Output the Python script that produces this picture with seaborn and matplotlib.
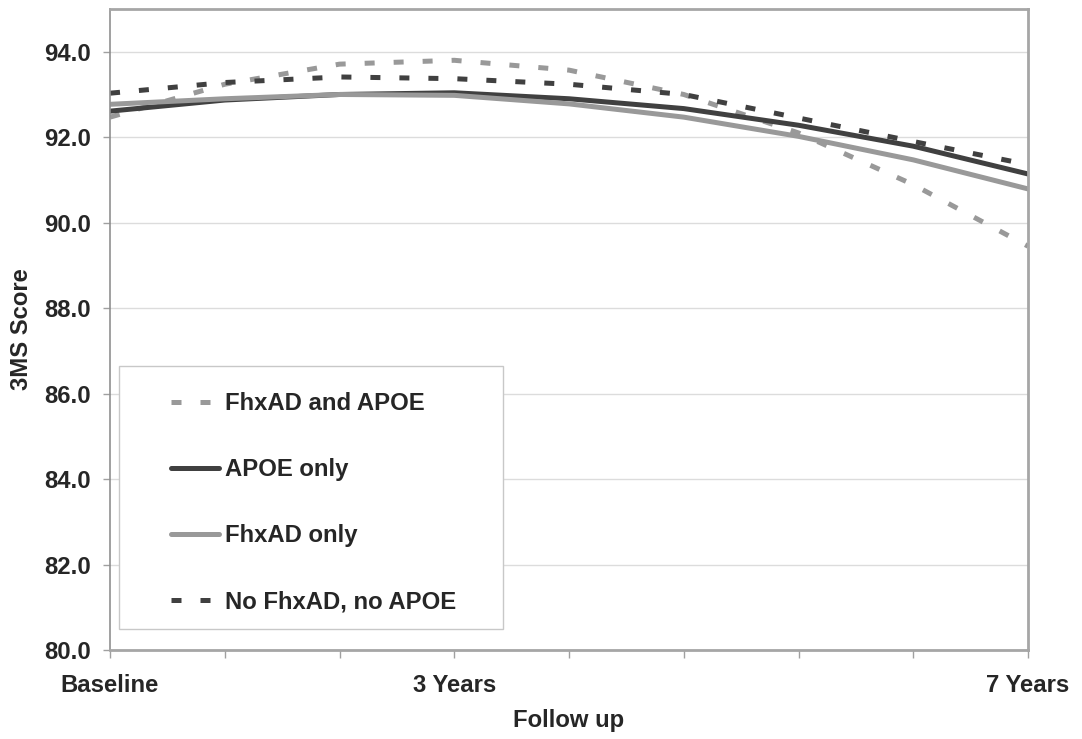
import numpy as np
import pandas as pd
import seaborn as sns
import matplotlib.pyplot as plt
from matplotlib.patches import Rectangle

# Data (9 follow-up points, labelled at 0, 3 and 8)
followup = [0, 1, 2, 3, 4, 5, 6, 7, 8]
tick_pos = [0, 3, 8]
tick_labels = ['Baseline', '3 Years', '7 Years']

fhx_and_apoe = [92.47, 93.24, 93.71, 93.80, 93.57, 93.00, 92.10, 90.89, 89.45]
apoe_only = [92.61, 92.87, 93.00, 93.04, 92.90, 92.67, 92.28, 91.79, 91.14]
fhx_only = [92.77, 92.90, 93.00, 92.98, 92.78, 92.47, 92.02, 91.47, 90.79]
no_fhx_no_apoe = [93.03, 93.28, 93.41, 93.37, 93.24, 93.00, 92.45, 91.90, 91.36]

groups = ['FhxAD and APOE', 'APOE only', 'FhxAD only', 'No FhxAD, no APOE']

df = pd.DataFrame({
    'x': followup * 4,
    'score': fhx_and_apoe + apoe_only + fhx_only + no_fhx_no_apoe,
    'group': np.repeat(groups, len(followup)),
})

sns.set_style('white')
plt.rcParams['font.family'] = ['Liberation Sans', 'DejaVu Sans']
plt.rcParams['font.weight'] = 'bold'
fs = 17.2

fig = plt.figure(figsize=(10.82, 7.39), dpi=100)
ax = fig.add_axes([0.1017, 0.1204, 0.8484, 0.8674])

palette = {
    'FhxAD and APOE': '#999999',
    'APOE only': '#404040',
    'FhxAD only': '#999999',
    'No FhxAD, no APOE': '#404040',
}
dashes = {
    'FhxAD and APOE': (2, 3.8),
    'APOE only': '',
    'FhxAD only': '',
    'No FhxAD, no APOE': (2, 3.8),
}

sns.lineplot(data=df, x='x', y='score', hue='group', style='group',
             hue_order=groups, style_order=groups, palette=palette,
             dashes=dashes, linewidth=3.6, ax=ax)

ax.set_xlim(0, 8)
ax.set_ylim(80, 95)
ax.set_yticks(np.arange(80, 95, 2))
ax.set_yticklabels([f'{v:.1f}' for v in np.arange(80, 95, 2)])
ax.yaxis.grid(True, color='#dcdcdc', linewidth=1)
ax.set_axisbelow(True)

# tick marks at every point, labels only at three of them
ax.set_xticks(followup)
ax.set_xticklabels([tick_labels[tick_pos.index(i)] if i in tick_pos else '' for i in followup])
ax.tick_params(axis='x', bottom=True, length=6, width=1, color='#a0a0a0', pad=11, labelsize=fs)
ax.tick_params(axis='y', left=True, length=5, width=1, color='#a0a0a0', pad=9, labelsize=fs)
for lbl in ax.get_xticklabels() + ax.get_yticklabels():
    lbl.set_fontweight('bold')

for side in ['top', 'right', 'bottom']:
    ax.spines[side].set_color('#a6a6a6')
    ax.spines[side].set_linewidth(2)
ax.spines['left'].set_color('#909090')
ax.spines['left'].set_linewidth(1.2)

ax.set_xlabel('Follow up', fontsize=fs, fontweight='bold', labelpad=9)
ax.set_ylabel('3MS Score', fontsize=fs, fontweight='bold', labelpad=8)

# legend inside its own box in the lower-left corner
handles, labels = ax.get_legend_handles_labels()
ax.legend(handles, labels, loc='upper left', bbox_to_anchor=(0.0534, 0.421),
          frameon=False, borderpad=0, labelspacing=1.8,
          handlelength=2.0, handletextpad=0.25, prop={'weight': 'bold', 'size': fs})
ax.add_patch(Rectangle((0.0098, 0.0328), 0.418, 0.41, transform=ax.transAxes,
                       facecolor='white', edgecolor='#c8c8c8', linewidth=1, zorder=1.5))

fig.savefig('out.png', dpi=100)
